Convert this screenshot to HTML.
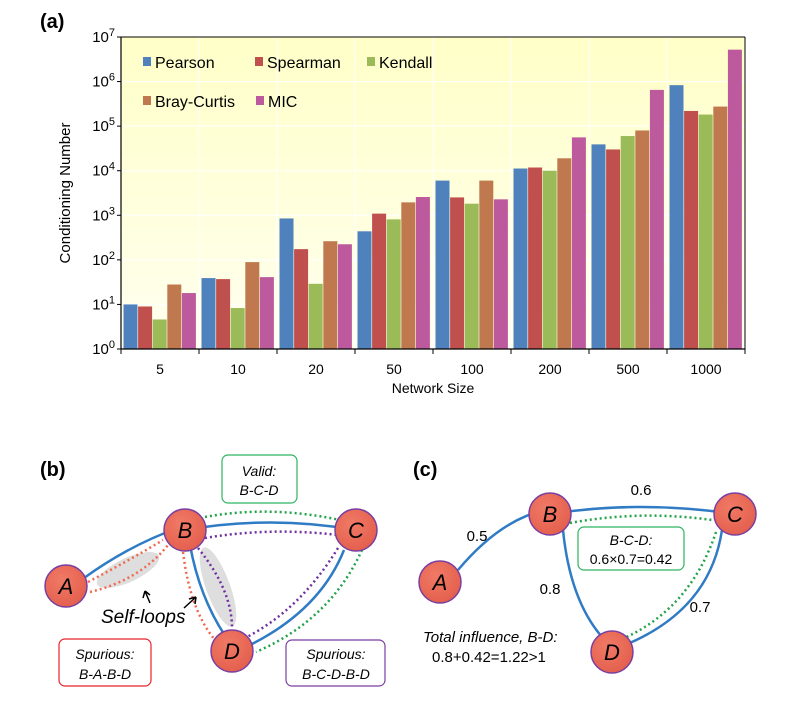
<!DOCTYPE html>
<html><head><meta charset="utf-8">
<style>
body{margin:0;background:#fff;}
svg{display:block;font-family:"Liberation Sans",Arial,sans-serif;}
</style></head>
<body>
<svg id="fig" width="790" height="712" viewBox="0 0 790 712">
<defs>
<linearGradient id="bg" x1="0" y1="0" x2="0" y2="1">
<stop offset="0" stop-color="#ffffc8"/><stop offset="1" stop-color="#fffff0"/>
</linearGradient>
<radialGradient id="node" cx="0.4" cy="0.35" r="0.7">
<stop offset="0" stop-color="#f07a66"/><stop offset="1" stop-color="#e35e4c"/>
</radialGradient>
</defs>
<text x="40" y="28" font-size="20" font-weight="bold">(a)</text>
<rect x="121" y="37" width="624" height="312" fill="url(#bg)"/>
<g id="grid"></g>
<g id="bars"></g>
<g id="axes"></g>
<text transform="translate(70,193) rotate(-90)" text-anchor="middle" font-size="15">Conditioning Number</text>
<text x="433" y="393" text-anchor="middle" font-size="14">Network Size</text>
<g id="legend"></g>

<!-- panel b -->
<text x="40" y="476" font-size="20" font-weight="bold">(b)</text>
<g>
<ellipse cx="128" cy="570" rx="34" ry="12" transform="rotate(-25 128 570)" fill="#d8d8d8" opacity="0.85"/>
<ellipse cx="218" cy="587" rx="12" ry="42" transform="rotate(-20 218 587)" fill="#d8d8d8" opacity="0.85"/>
<path d="M84,578 Q130,545 178,528" stroke="#2f7bc4" stroke-width="2.5" fill="none"/>
<path d="M185,530 Q270,515 356,530" stroke="#2f7bc4" stroke-width="2.5" fill="none"/>
<path d="M190,545 Q200,600 228,640" stroke="#2f7bc4" stroke-width="2.5" fill="none"/>
<path d="M344,550 Q320,610 250,645" stroke="#2f7bc4" stroke-width="2.5" fill="none"/>
<path d="M205,517 Q270,505 340,520" stroke="#22a34a" stroke-width="2.5" stroke-dasharray="2,3" fill="none"/>
<path d="M205,538 Q270,527 338,535" stroke="#7030a0" stroke-width="2.5" stroke-dasharray="2,3" fill="none"/>
<path d="M90,592 Q140,580 168,545" stroke="#f06a50" stroke-width="2.5" stroke-dasharray="2,3" fill="none"/>
<path d="M88,582 Q130,560 163,540" stroke="#f06a50" stroke-width="2.5" stroke-dasharray="2,3" fill="none"/>
<path d="M183,552 Q190,610 215,640" stroke="#f06a50" stroke-width="2.5" stroke-dasharray="2,3" fill="none"/>
<path d="M198,548 Q232,590 232,628" stroke="#7030a0" stroke-width="2.5" stroke-dasharray="2,3" fill="none"/>
<path d="M338,548 Q300,610 245,638" stroke="#7030a0" stroke-width="2.5" stroke-dasharray="2,3" fill="none"/>
<path d="M362,550 Q330,620 256,652" stroke="#22a34a" stroke-width="2.5" stroke-dasharray="2,3" fill="none"/>
<circle cx="66" cy="586" r="21" fill="url(#node)" stroke="#7a3fa0" stroke-width="1.5"/>
<circle cx="185" cy="530" r="21" fill="url(#node)" stroke="#7a3fa0" stroke-width="1.5"/>
<circle cx="356" cy="530" r="21" fill="url(#node)" stroke="#7a3fa0" stroke-width="1.5"/>
<circle cx="232" cy="651" r="21" fill="url(#node)" stroke="#7a3fa0" stroke-width="1.5"/>
<g font-size="22" font-style="italic" text-anchor="middle">
<text x="66" y="594">A</text><text x="185" y="538">B</text><text x="356" y="538">C</text><text x="232" y="659">D</text>
</g>
<path d="M150,603 L145,591 M145,591 L143,598 M145,591 L150,595" stroke="#000" stroke-width="1.5" fill="none"/>
<path d="M184,608 L196,597 M196,597 L189,599 M196,597 L195,604" stroke="#000" stroke-width="1.5" fill="none"/>
<text x="101" y="623" font-size="19" font-style="italic">Self-loops</text>
<rect x="222" y="455" width="75" height="48" rx="6" fill="#fff" stroke="#2eb360" stroke-width="1.2"/>
<text x="259" y="476" font-size="14" font-style="italic" text-anchor="middle">Valid:</text>
<text x="259" y="495" font-size="14" font-style="italic" text-anchor="middle">B-C-D</text>
<rect x="59" y="639" width="92" height="47" rx="6" fill="#fff" stroke="#e8232a" stroke-width="1.2"/>
<text x="105" y="659" font-size="14" font-style="italic" text-anchor="middle">Spurious:</text>
<text x="105" y="679" font-size="14" font-style="italic" text-anchor="middle">B-A-B-D</text>
<rect x="286" y="640" width="99" height="46" rx="6" fill="#fff" stroke="#7a3fa0" stroke-width="1.2"/>
<text x="336" y="659" font-size="14" font-style="italic" text-anchor="middle">Spurious:</text>
<text x="336" y="679" font-size="14" font-style="italic" text-anchor="middle">B-C-D-B-D</text>
</g>

<!-- panel c -->
<text x="413" y="476" font-size="20" font-weight="bold">(c)</text>
<g>
<path d="M458,570 Q500,520 545,510" stroke="#2f7bc4" stroke-width="2.5" fill="none"/>
<path d="M550,514 Q640,500 735,514" stroke="#2f7bc4" stroke-width="2.5" fill="none"/>
<path d="M563,530 Q570,600 602,637" stroke="#2f7bc4" stroke-width="2.5" fill="none"/>
<path d="M722,530 Q710,610 625,645" stroke="#2f7bc4" stroke-width="2.5" fill="none"/>
<path d="M570,523 Q640,510 712,520" stroke="#22a34a" stroke-width="2.5" stroke-dasharray="2,3" fill="none"/>
<path d="M716,532 Q690,610 620,640" stroke="#22a34a" stroke-width="2.5" stroke-dasharray="2,3" fill="none"/>
<circle cx="440" cy="582" r="21" fill="url(#node)" stroke="#7a3fa0" stroke-width="1.5"/>
<circle cx="550" cy="514" r="21" fill="url(#node)" stroke="#7a3fa0" stroke-width="1.5"/>
<circle cx="735" cy="514" r="21" fill="url(#node)" stroke="#7a3fa0" stroke-width="1.5"/>
<circle cx="612" cy="652" r="21" fill="url(#node)" stroke="#7a3fa0" stroke-width="1.5"/>
<g font-size="22" font-style="italic" text-anchor="middle">
<text x="440" y="590">A</text><text x="550" y="522">B</text><text x="735" y="522">C</text><text x="612" y="660">D</text>
</g>
<g font-size="15" text-anchor="middle">
<text x="641" y="495">0.6</text><text x="477" y="541">0.5</text><text x="550" y="594">0.8</text><text x="700" y="612">0.7</text>
</g>
<rect x="578" y="527" width="106" height="43" rx="6" fill="#fff" stroke="#2eb360" stroke-width="1.2"/>
<text x="631" y="545" font-size="14" font-style="italic" text-anchor="middle">B-C-D:</text>
<text x="631" y="564" font-size="14" text-anchor="middle">0.6×0.7=0.42</text>
<text x="423" y="642" font-size="15" font-style="italic">Total influence, B-D:</text>
<text x="432" y="662" font-size="15">0.8+0.42=1.22&gt;1</text>
</g>
</svg>
<script>
const categories=["5","10","20","50","100","200","500","1000"];
const seriesNames=["Pearson","Spearman","Kendall","Bray-Curtis","MIC"];
const pearson=[10,39,850,437,6000,11200,39000,830000];
const spearman=[9,37,174,1090,2520,11800,30000,219000];
const kendall=[4.6,8.3,29,810,1820,10000,60000,182000];
const brayCurtis=[28,89,262,1950,6000,19000,80000,275000];
const mic=[18,41,224,2570,2280,56000,650000,5200000];
const yTickExps=[0,1,2,3,4,5,6,7];
const colors=["#4f81bd","#c0504d","#9bbb59","#c0794f","#bd5a9e"];
const NS="http://www.w3.org/2000/svg";
const L=121,R=745,T=37,B=349;
const series=[pearson,spearman,kendall,brayCurtis,mic];
function y(v){return B-(Math.log10(v)/7)*(B-T);}
const gw=(R-L)/categories.length;
function x(ci,si){return L+ci*gw+2.5+si*14.6;}
function mk(tag,attrs,parent){const e=document.createElementNS(NS,tag);for(const k in attrs)e.setAttribute(k,attrs[k]);parent.appendChild(e);return e;}
const grid=document.getElementById("grid");
yTickExps.forEach(e=>{const yy=B-(e/7)*(B-T);mk("line",{x1:L,y1:yy,x2:R,y2:yy,stroke:"#ffffff","stroke-width":1},grid);});
categories.forEach((c,ci)=>{mk("line",{x1:L+ci*gw,y1:T,x2:L+ci*gw,y2:B,stroke:"#ffffff","stroke-width":1},grid);});
const bars=document.getElementById("bars");
series.forEach((s,si)=>{s.forEach((v,ci)=>{
 const r=mk("rect",{x:x(ci,si),y:y(v),width:14,height:B-y(v),fill:colors[si]},bars);
 
 
});});
const ax=document.getElementById("axes");
mk("line",{x1:L,y1:T,x2:L,y2:B,stroke:"#000","stroke-width":1.2},ax);
mk("line",{x1:L,y1:B,x2:R,y2:B,stroke:"#000","stroke-width":1.2},ax);
mk("line",{x1:R,y1:T,x2:R,y2:B,stroke:"#000","stroke-width":1},ax);
mk("line",{x1:L,y1:T,x2:R,y2:T,stroke:"#000","stroke-width":1},ax);
yTickExps.forEach(e=>{
 const yy=B-(e/7)*(B-T);
 mk("line",{x1:L-4,y1:yy,x2:L,y2:yy,stroke:"#000"},ax);
 const t=mk("text",{x:L-6,y:yy+5,"text-anchor":"end","font-size":15},ax);
 
 
 t.textContent="10";
 const sp=document.createElementNS(NS,"tspan");sp.setAttribute("dy","-6");sp.setAttribute("font-size","11");sp.textContent=e;t.appendChild(sp);
});
categories.forEach((c,ci)=>{
 mk("line",{x1:L+ci*gw,y1:B,x2:L+ci*gw,y2:B+5,stroke:"#000"},ax);
 const t=mk("text",{x:L+ci*gw+gw/2,y:374,"text-anchor":"middle","font-size":14},ax);
 
 
 t.textContent=c;
});
mk("line",{x1:R,y1:B,x2:R,y2:B+5,stroke:"#000"},ax);
const lg=document.getElementById("legend");
const lpos=[[143,68],[255,68],[367,68],[143,107],[256,107]];
seriesNames.forEach((n,i)=>{
 const g=mk("g",{},lg);
 
 
 mk("rect",{x:lpos[i][0],y:lpos[i][1]-11,width:8,height:9,fill:colors[i]},g);
 const t=mk("text",{x:lpos[i][0]+12,y:lpos[i][1],"font-size":16},g);
 t.textContent=n;
});
</script>
</body></html>
